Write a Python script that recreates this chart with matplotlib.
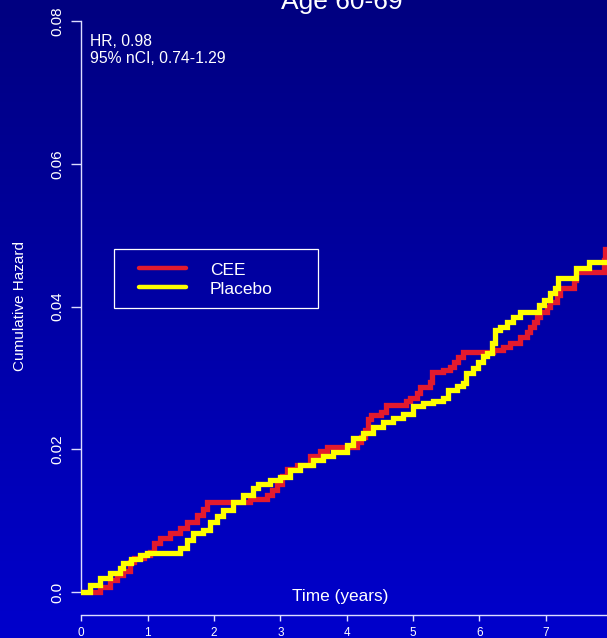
import numpy as np
import matplotlib
matplotlib.use("Agg")
import matplotlib.pyplot as plt
from matplotlib.lines import Line2D
from matplotlib.patches import Rectangle

plt.rcParams['font.family'] = ['Liberation Sans', 'DejaVu Sans']

title = "Age 60-69"
series_names = ["CEE", "Placebo"]
x_ticks = [0, 1, 2, 3, 4, 5, 6, 7]
y_ticks = [0.0, 0.02, 0.04, 0.06, 0.08]
y_tick_labels = ["0.0", "0.02", "0.04", "0.06", "0.08"]
annotation = ["HR, 0.98", "95% nCI, 0.74-1.29"]

cee_t = [0, 0.28, 0.43, 0.54, 0.63, 0.73, 0.79, 0.94, 1.04, 1.09, 1.19, 1.34,
         1.49, 1.59, 1.74, 1.84, 1.90, 2.54, 2.80, 2.87, 2.95, 3.02, 3.10, 3.25,
         3.45, 3.60, 3.70, 4.15, 4.21, 4.27, 4.32, 4.37, 4.52, 4.59, 4.90, 4.95,
         5.06, 5.10, 5.25, 5.28, 5.45, 5.56, 5.61, 5.68, 5.75, 6.21, 6.36, 6.46,
         6.61, 6.72, 6.77, 6.82, 6.87, 6.92, 7.02, 7.07, 7.17, 7.22, 7.43, 7.46,
         7.88, 7.90, 7.95]
cee_h = [0, 0.0007, 0.0017, 0.0024, 0.0030, 0.0042, 0.0047, 0.0052, 0.0056,
         0.0068, 0.0075, 0.0083, 0.0090, 0.0098, 0.0108, 0.0116, 0.0126, 0.0131,
         0.0136, 0.0143, 0.0152, 0.0162, 0.0172, 0.0178, 0.0190, 0.0197, 0.0203,
         0.0210, 0.0217, 0.0227, 0.0243, 0.0248, 0.0252, 0.0262, 0.0268, 0.0272,
         0.0279, 0.0287, 0.0294, 0.0308, 0.0311, 0.0315, 0.0322, 0.0329, 0.0336,
         0.0339, 0.0343, 0.0349, 0.0357, 0.0364, 0.0371, 0.0378, 0.0385, 0.0392,
         0.0399, 0.0406, 0.0416, 0.0426, 0.0437, 0.0448, 0.0465, 0.0480, 0.0480]

pla_t = [0, 0.13, 0.28, 0.43, 0.58, 0.63, 0.75, 0.89, 0.99, 1.49, 1.59, 1.68,
         1.83, 1.94, 2.04, 2.14, 2.29, 2.44, 2.59, 2.66, 2.84, 2.99, 3.14, 3.29,
         3.49, 3.64, 3.80, 4.00, 4.10, 4.25, 4.40, 4.55, 4.70, 4.85, 5.00, 5.15,
         5.30, 5.45, 5.52, 5.66, 5.75, 5.80, 5.90, 5.98, 6.05, 6.11, 6.19, 6.23,
         6.31, 6.41, 6.51, 6.61, 6.90, 6.97, 7.07, 7.14, 7.19, 7.45, 7.65, 7.95]
pla_h = [0, 0.0010, 0.0020, 0.0027, 0.0034, 0.0040, 0.0046, 0.0052, 0.0055,
         0.0062, 0.0073, 0.0083, 0.0087, 0.0098, 0.0107, 0.0115, 0.0126, 0.0136,
         0.0146, 0.0152, 0.0157, 0.0161, 0.0171, 0.0178, 0.0185, 0.0190, 0.0196,
         0.0206, 0.0216, 0.0223, 0.0231, 0.0238, 0.0244, 0.0250, 0.0260, 0.0265,
         0.0267, 0.0272, 0.0283, 0.0288, 0.0293, 0.0307, 0.0314, 0.0322, 0.0330,
         0.0335, 0.0349, 0.0367, 0.0371, 0.0378, 0.0385, 0.0392, 0.0402, 0.0409,
         0.0419, 0.0426, 0.0440, 0.0454, 0.0462, 0.0462]

W, H = 607, 638
fig = plt.figure(figsize=(W / 100, H / 100), dpi=100)

# gradient background
bg = fig.add_axes([0, 0, 1, 1], zorder=-10)
grad = np.linspace(0, 1, 256).reshape(-1, 1)
top = np.array([0, 0, 128]) / 255
bot = np.array([0, 0, 204]) / 255
img = top[None, None, :] * (1 - grad[:, :, None]) + bot[None, None, :] * grad[:, :, None]
bg.imshow(img, aspect='auto', extent=[0, 1, 0, 1])
bg.set_axis_off()

def fx(px):
    return px / W

def fy(py):
    return 1 - py / H

ax = fig.add_axes([fx(81.3), fy(614.5), fx(607) - fx(81.3), fy(10) - fy(614.5)])
ax.patch.set_alpha(0)
ax.set_xlim(0, 7.923)
ax.set_ylim(-0.00315, 0.08154)

red = '#E31A2E'
yel = '#FFFF00'
ax.step(cee_t, cee_h, where='post', color=red, lw=3.8, solid_joinstyle='miter', zorder=3)
ax.step(pla_t, pla_h, where='post', color=yel, lw=3.8, solid_joinstyle='miter', zorder=4)

axcol = '#DDDDFF'
for s in ['top', 'right']:
    ax.spines[s].set_visible(False)
ax.spines['left'].set_bounds(0, 0.08)
ax.spines['bottom'].set_bounds(0, 7.923)
for s in ['left', 'bottom']:
    ax.spines[s].set_color(axcol)
    ax.spines[s].set_linewidth(1.0)

ax.set_xticks(x_ticks)
ax.set_xticklabels([str(v) for v in x_ticks])
ax.set_yticks(y_ticks)
ax.set_yticklabels(y_tick_labels, rotation=90, va='center')
ax.tick_params(axis='x', colors=axcol, labelcolor='white', length=4, width=1, pad=5, labelsize=8.5)
ax.tick_params(axis='y', colors=axcol, labelcolor='white', length=7.5, width=1, pad=5, labelsize=11)

fig.text(fx(20), fy(306.5), "Cumulative Hazard", rotation=90, ha='center', va='center',
         color='white', fontsize=11)
fig.text(fx(340), fy(596), "Time (years)", ha='center', va='center', color='white', fontsize=12.4)
fig.text(fx(342), fy(9), title, ha='center', va='baseline', color='white', fontsize=19)
fig.text(fx(90), fy(46.5), annotation[0], ha='left', va='baseline', color='white', fontsize=11.3)
fig.text(fx(90), fy(63), annotation[1], ha='left', va='baseline', color='white', fontsize=11.3)

# legend
fig.add_artist(Rectangle((fx(114), fy(308)), fx(318) - fx(114), fy(249) - fy(308),
                         transform=fig.transFigure, fill=False, edgecolor='white', lw=0.9))
for i, (name, col) in enumerate(zip(series_names, [red, yel])):
    yy = 267.5 + 19.5 * i
    fig.add_artist(Line2D([fx(139), fx(186)], [fy(yy), fy(yy)], transform=fig.transFigure,
                          color=col, lw=3.2, solid_capstyle='round'))
    fig.text(fx(210), fy(yy + 3), name, ha='left', va='center', color='white', fontsize=12.5)

fig.savefig('out.png', dpi=100)
